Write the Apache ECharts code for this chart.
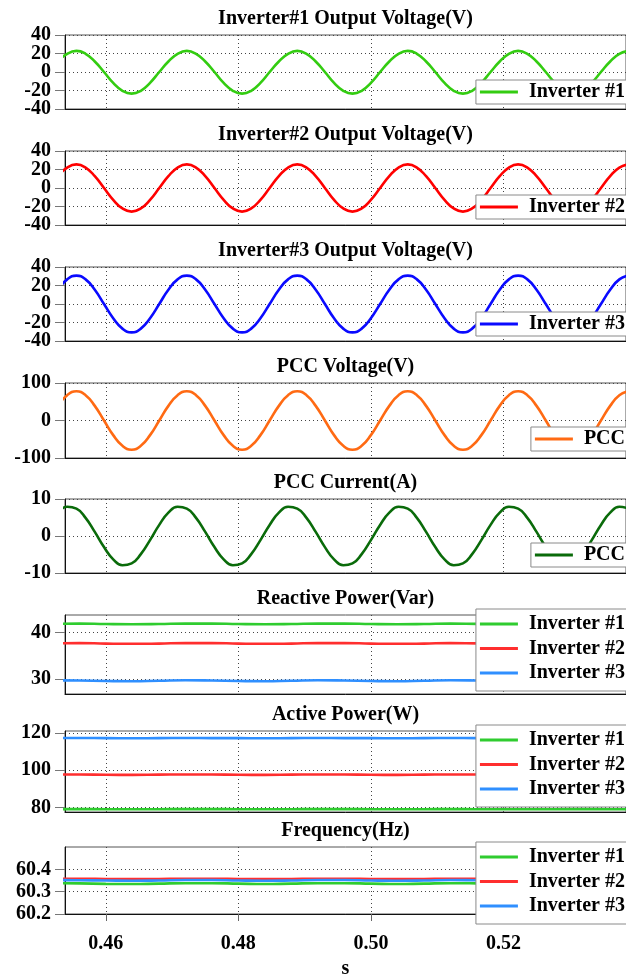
<!DOCTYPE html>
<html>
<head>
<meta charset="utf-8">
<script src="https://cdn.jsdelivr.net/npm/echarts@6/dist/echarts.min.js"></script>
<style>
html,body{margin:0;padding:0;background:#fff;}
#chart{width:626px;height:980px;}
</style>
</head>
<body>
<div id="chart"></div>
<script>
// ---------- DATA ----------
const panelTitles = ['Inverter#1 Output Voltage(V)','Inverter#2 Output Voltage(V)','Inverter#3 Output Voltage(V)',
  'PCC Voltage(V)','PCC Current(A)','Reactive Power(Var)','Active Power(W)','Frequency(Hz)'];
const xTicks = [0.46, 0.48, 0.50, 0.52];
const xName = 's';

// time samples for waveforms (s)
const tWave = [0.45278,0.45417,0.45556,0.45694,0.45833,0.45972,0.46111,0.46250,0.46389,0.46528,0.46667,0.46806,
  0.46944,0.47083,0.47222,0.47361,0.47500,0.47639,0.47778,0.47917,0.48056,0.48194,0.48333,0.48472,
  0.48611,0.48750,0.48889,0.49028,0.49167,0.49306,0.49444,0.49583,0.49722,0.49861,0.50000,0.50139,
  0.50278,0.50417,0.50556,0.50694,0.50833,0.50972,0.51111,0.51250,0.51389,0.51528,0.51667,0.51806,
  0.51944,0.52083,0.52222,0.52361,0.52500,0.52639,0.52778,0.52917,0.53056,0.53194,0.53333,0.53472,
  0.53611,0.53750,0.53889];

const inv1Voltage = [11.4,19.7,22.8,19.7,11.4,0,-11.7,-20.3,-23.4,-20.3,-11.7,0,
  11.4,19.7,22.8,19.7,11.4,0,-11.7,-20.3,-23.4,-20.3,-11.7,0,
  11.4,19.7,22.8,19.7,11.4,0,-11.7,-20.3,-23.4,-20.3,-11.7,0,
  11.4,19.7,22.8,19.7,11.4,0,-11.7,-20.3,-23.4,-20.3,-11.7,0,
  11.4,19.7,22.8,19.7,11.4,0,-11.7,-20.3,-23.4,-20.3,-11.7,0,
  11.4,19.7,22.8];
const inv2Voltage = [12.8,22.1,25.5,22.1,12.8,0,-12.8,-22.1,-25.5,-22.1,-12.8,0,
  12.8,22.1,25.5,22.1,12.8,0,-12.8,-22.1,-25.5,-22.1,-12.8,0,
  12.8,22.1,25.5,22.1,12.8,0,-12.8,-22.1,-25.5,-22.1,-12.8,0,
  12.8,22.1,25.5,22.1,12.8,0,-12.8,-22.1,-25.5,-22.1,-12.8,0,
  12.8,22.1,25.5,22.1,12.8,0,-12.8,-22.1,-25.5,-22.1,-12.8,0,
  12.8,22.1,25.5];
const inv3Voltage = [15.4,26.6,30.7,26.6,15.4,0,-15.4,-26.6,-30.7,-26.6,-15.4,0,
  15.4,26.6,30.7,26.6,15.4,0,-15.4,-26.6,-30.7,-26.6,-15.4,0,
  15.4,26.6,30.7,26.6,15.4,0,-15.4,-26.6,-30.7,-26.6,-15.4,0,
  15.4,26.6,30.7,26.6,15.4,0,-15.4,-26.6,-30.7,-26.6,-15.4,0,
  15.4,26.6,30.7,26.6,15.4,0,-15.4,-26.6,-30.7,-26.6,-15.4,0,
  15.4,26.6,30.7];
const pccVoltage = [39,67.5,78,67.5,39,0,-39,-67.5,-78,-67.5,-39,0,
  39,67.5,78,67.5,39,0,-39,-67.5,-78,-67.5,-39,0,
  39,67.5,78,67.5,39,0,-39,-67.5,-78,-67.5,-39,0,
  39,67.5,78,67.5,39,0,-39,-67.5,-78,-67.5,-39,0,
  39,67.5,78,67.5,39,0,-39,-67.5,-78,-67.5,-39,0,
  39,67.5,78];
const pccCurrent = [6.3,7.9,7.4,4.9,1.1,-3.0,-6.3,-7.9,-7.4,-4.9,-1.1,3.0,
  6.3,7.9,7.4,4.9,1.1,-3.0,-6.3,-7.9,-7.4,-4.9,-1.1,3.0,
  6.3,7.9,7.4,4.9,1.1,-3.0,-6.3,-7.9,-7.4,-4.9,-1.1,3.0,
  6.3,7.9,7.4,4.9,1.1,-3.0,-6.3,-7.9,-7.4,-4.9,-1.1,3.0,
  6.3,7.9,7.4,4.9,1.1,-3.0,-6.3,-7.9,-7.4,-4.9,-1.1,3.0,
  6.3,7.9,7.4];

// time samples for power / frequency (s)
const tPower = [0.452,0.456,0.460,0.464,0.468,0.472,0.476,0.480,0.484,0.488,0.492,0.496,
  0.500,0.504,0.508,0.512,0.516,0.520,0.524,0.528,0.532,0.536,0.540];
const reactive1 = [41.9,41.95,41.85,41.8,41.85,41.95,41.95,41.85,41.8,41.85,41.95,41.95,41.85,41.8,41.85,41.95,41.9,41.85,41.8,41.85,41.9,41.9,41.85];
const reactive2 = [37.7,37.75,37.65,37.6,37.65,37.75,37.75,37.65,37.6,37.65,37.75,37.75,37.65,37.6,37.65,37.75,37.7,37.65,37.6,37.65,37.7,37.7,37.65];
const reactive3 = [29.75,29.7,29.6,29.55,29.65,29.75,29.7,29.6,29.55,29.65,29.75,29.7,29.6,29.55,29.65,29.75,29.7,29.6,29.55,29.65,29.7,29.7,29.6];
const active1 = [79.0,79.05,79.0,78.95,79.0,79.05,79.05,79.0,78.95,79.0,79.05,79.05,79.0,78.95,79.0,79.05,79.0,79.0,78.95,79.0,79.05,79.0,79.0];
const active2 = [97.6,97.65,97.5,97.45,97.55,97.65,97.6,97.5,97.45,97.55,97.65,97.6,97.5,97.45,97.55,97.65,97.6,97.5,97.45,97.55,97.6,97.6,97.5];
const active3 = [117.2,117.25,117.15,117.1,117.2,117.25,117.2,117.15,117.1,117.2,117.25,117.2,117.15,117.1,117.2,117.25,117.2,117.15,117.1,117.2,117.2,117.2,117.15];
const freq1 = [60.338,60.337,60.335,60.334,60.336,60.338,60.338,60.336,60.334,60.336,60.338,60.338,60.336,60.334,60.336,60.338,60.337,60.335,60.334,60.336,60.337,60.337,60.335];
const freq2 = [60.358,60.358,60.357,60.356,60.357,60.358,60.358,60.357,60.356,60.357,60.358,60.358,60.357,60.356,60.357,60.358,60.358,60.357,60.356,60.357,60.358,60.358,60.357];
const freq3 = [60.352,60.351,60.350,60.349,60.350,60.352,60.352,60.350,60.349,60.350,60.352,60.352,60.350,60.349,60.350,60.352,60.351,60.350,60.349,60.350,60.351,60.351,60.350];

// y-axis ticks per panel (all tick values; labels shown at each)
const yTicks = [[-40,-20,0,20,40],[-40,-20,0,20,40],[-40,-20,0,20,40],[-100,0,100],[-10,0,10],[30,40],[80,100,120],[60.2,60.3,60.4]];

// ---------- LAYOUT / STYLE ----------
const FONT = 'Liberation Serif';
const gridTop = [35,151,267,383,499,615,731,847];
const gridH   = [74,74,74,75,74,79,81,74];
const yMin = [-40,-40,-40,-100,-10,26.8,77.5,60.2];
const yMax = [40,40,40,100,10,43.8,121,60.5];
const legendTop = [80,195,312,427,543,609,725,842];
const xMin = 0.453835, xMax = 0.5385;

const C = {g1:'#33cc11', r1:'#ff0000', b1:'#0a0aff', orange:'#ff6a13', dgreen:'#0a6b0a',
  g:'#2fcc2f', r:'#ff2e2e', b:'#2f8fff'};

const seriesDefs = [
  {panel:0, name:'Inverter #1|a', t:tWave, v:inv1Voltage, color:C.g1},
  {panel:1, name:'Inverter #2|a', t:tWave, v:inv2Voltage, color:C.r1},
  {panel:2, name:'Inverter #3|a', t:tWave, v:inv3Voltage, color:C.b1},
  {panel:3, name:'PCC|v', t:tWave, v:pccVoltage, color:C.orange},
  {panel:4, name:'PCC|i', t:tWave, v:pccCurrent, color:C.dgreen},
  {panel:5, name:'Inverter #1|q', t:tPower, v:reactive1, color:C.g},
  {panel:5, name:'Inverter #2|q', t:tPower, v:reactive2, color:C.r},
  {panel:5, name:'Inverter #3|q', t:tPower, v:reactive3, color:C.b},
  {panel:6, name:'Inverter #1|p', t:tPower, v:active1, color:C.g},
  {panel:6, name:'Inverter #2|p', t:tPower, v:active2, color:C.r},
  {panel:6, name:'Inverter #3|p', t:tPower, v:active3, color:C.b},
  {panel:7, name:'Inverter #1|f', t:tPower, v:freq1, color:C.g},
  {panel:7, name:'Inverter #2|f', t:tPower, v:freq2, color:C.r},
  {panel:7, name:'Inverter #3|f', t:tPower, v:freq3, color:C.b}
];

const txt = {fontFamily:FONT, fontWeight:'bold', fontSize:20, color:'#000'};
const dotted = {color:'#444', width:1, type:[1,3]};
const fmt = i => (i===7 ? (v=>v.toFixed(1)) : (v=>String(v)));

const grids=[], xAxes=[], yAxes=[], titles=[], legends=[], extraY=[];
for (let i=0;i<8;i++){
  grids.push({left:65, right:-2, top:gridTop[i], height:gridH[i], show:true, borderColor:'#555', borderWidth:1});
  const last = i===7;
  xAxes.push({type:'value', gridIndex:i, min:xMin, max:xMax,
    axisLine:{show:true, onZero:false, lineStyle:{color:'#111', width:1}},
    axisTick:{show:last, customValues:xTicks, length:7, lineStyle:{color:'#666'}},
    axisLabel:{show:last, customValues:xTicks, margin:20, formatter:v=>v.toFixed(2), ...txt},
    splitLine:{show:true, lineStyle:dotted},
    name: last ? xName : '', nameLocation:'middle', nameGap:45, nameTextStyle:txt
  });
  // labels split into two interleaved sets so dense labels are never hidden
  const ticks = yTicks[i];
  const setA = ticks.filter((v,k)=>k%2===0), setB = ticks.filter((v,k)=>k%2===1);
  yAxes.push({type:'value', gridIndex:i, min:yMin[i], max:yMax[i],
    axisLine:{show:true, onZero:false, lineStyle:{color:'#111', width:1}},
    axisTick:{show:true, inside:false, length:10, lineStyle:{color:'#777'}, customValues:ticks},
    axisLabel:{margin:14, customValues:setA, showMinLabel:true, showMaxLabel:true, ...txt, formatter:fmt(i)},
    splitLine:{show:true, lineStyle:dotted}
  });
  if (setB.length) extraY.push({type:'value', gridIndex:i, min:yMin[i], max:yMax[i], position:'left',
    axisLine:{show:false}, axisTick:{show:false}, splitLine:{show:false},
    axisLabel:{margin:14, customValues:setB, showMinLabel:true, showMaxLabel:true, ...txt, formatter:fmt(i)}
  });
  titles.push({text:panelTitles[i], left:345.5, textAlign:'center', top:gridTop[i]-26, padding:0,
    textStyle:txt});
}

const legendGroups = [0,1,2,3,4,5,6,7].map(p=>seriesDefs.filter(s=>s.panel===p).map(s=>s.name));
legendGroups.forEach((names,p)=>{
  const multi = names.length>1;
  legends.push({
    data:names, orient:'vertical', right:-2, top:legendTop[p], z:10,
    backgroundColor:'#fff', borderColor:'#8a8a8a', borderWidth:1,
    padding: multi ? [5,3,8,4] : [2,3,2,4],
    itemGap: multi ? 4.5 : 0, itemWidth:38, itemHeight:3, icon:'rect',
    selectedMode:false,
    formatter: n=>n.split('|')[0],
    textStyle:{...txt, padding:[0,0,0,6]}
  });
});

const series = seriesDefs.map(s=>({
  type:'line', name:s.name, xAxisIndex:s.panel, yAxisIndex:s.panel,
  data: s.t.map((t,k)=>[t, s.v[k]]),
  smooth:true, showSymbol:false, symbol:'none', clip:true,
  lineStyle:{color:s.color, width:2.6}, itemStyle:{color:s.color},
  animation:false, z:2
}));

const chart = echarts.init(document.getElementById('chart'), null, {renderer:'canvas'});
chart.setOption({
  animation:false,
  backgroundColor:'#fff',
  title:titles, grid:grids, xAxis:xAxes, yAxis:yAxes.concat(extraY), legend:legends, series:series
});
</script>
</body>
</html>
